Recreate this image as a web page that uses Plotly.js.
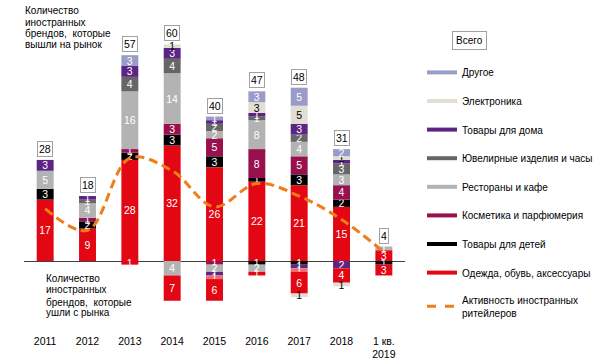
<!DOCTYPE html>
<html><head><meta charset="utf-8">
<script src="https://cdn.plot.ly/plotly-3.0.1.min.js"></script>
<style>body{margin:0;background:#fff}</style>
</head><body><div id="chart" style="width:600px;height:360px"></div>
<script>
const years = ['2011','2012','2013','2014','2015','2016','2017','2018','1 кв.<br>2019'];

// brands that entered the market (positive stack, bottom to top)
const inClothes = [17, 9, 28, 32, 26, 22, 21, 15, 3];
const inKids    = [3, 2, 2, 3, 3, 1, 3, 2, 0];
const inCosm    = [0, 1, 1, 3, 5, 8, 5, 4, 0];
const inRest    = [5, 4, 16, 14, 2, 8, 4, 3, 1];
const inJew     = [0, 1, 4, 4, 2, 1, 2, 3, 0];
const inHome    = [3, 1, 3, 3, 1, 1, 3, 1, 0];
const inElec    = [0, 0, 0, 1, 0, 3, 5, 1, 0];
const inOther   = [0, 0, 3, 0, 1, 3, 5, 2, 0];

// brands that left the market (stacked downward from zero)
const outKids        = [0, 0, 0, 0, 0, 1, 1, 0, 1];
const outCosm        = [0, 0, 0, 0, 1, 0, 0, 0, 0];
const outRest        = [0, 0, 0, 4, 2, 2, 0, 0, 0];
const outJew         = [0, 0, 0, 0, 0, 0, 0, 0, 0];
const outHome        = [0, 0, 0, 0, 1, 0, 1, 2, 0];
const outClothesPart = [0, 0, 0, 0, 1, 0, 1, 0, 0];
const outClothes     = [0, 0, 1, 7, 6, 1, 6, 4, 3];
const outElec        = [0, 0, 0, 0, 0, 0, 1, 1, 0];

// activity of foreign retailers (dashed line)
const activity = [14.5, 8.5, 28.5, 25, 15, 21.5, 18, 11.5, 2.5];

const topNote = ['Количество', 'иностранных', 'брендов,  которые', 'вышли на рынок'];
const bottomNote = ['Количество', 'иностранных', 'брендов,  которые', 'ушли с рынка'];

const FONT = 'Liberation Sans, Arial, sans-serif';
const C = {
  clothes:'#e30613', kids:'#000000', cosm:'#99104f', rest:'#b3b3b3',
  jew:'#666666', home:'#5c2483', elec:'#e3ded3', other:'#9b9bca',
  part:'#ee6b78', line:'#f07d1a'
};

const nz = (a, s) => a.map(v => v ? s * v : null);
const lbl = a => a.map(v => v ? String(v) : '');

function bar(vals, sign, color, tc){
  return {
    type:'bar', x: years, y: nz(vals, sign), text: lbl(vals),
    textposition:'inside', insidetextanchor:'middle', constraintext:'none', textangle:0,
    textfont:{family:FONT, size:10.5, color:tc},
    marker:{color:color, line:{width:0}}, showlegend:false, hoverinfo:'skip',
    cliponaxis:false
  };
}

const traces = [
  bar(inClothes, 1, C.clothes, '#fff'),
  bar(inKids, 1, C.kids, '#fff'),
  bar(inCosm, 1, C.cosm, '#fff'),
  bar(inRest, 1, C.rest, '#fff'),
  bar(inJew, 1, C.jew, '#fff'),
  bar(inHome, 1, C.home, '#fff'),
  bar(inElec, 1, C.elec, '#000'),
  bar(inOther, 1, C.other, '#fff'),
  bar(outKids, -1, C.kids, '#fff'),
  bar(outCosm, -1, C.cosm, '#fff'),
  bar(outRest, -1, C.rest, '#fff'),
  bar(outJew, -1, C.jew, '#fff'),
  bar(outHome, -1, C.home, '#fff'),
  bar(outClothesPart, -1, C.part, '#fff'),
  bar(outClothes, -1, C.clothes, '#fff'),
  bar(outElec, -1, C.elec, '#000'),
  {type:'scatter', mode:'lines', x: years, y: activity, showlegend:false, hoverinfo:'skip',
   line:{color:C.line, width:3, dash:'9px,5px', shape:'spline', smoothing:1}}
];

const legendItems = [
  ['Другое', C.other, 'solid'],
  ['Электроника', C.elec, 'solid'],
  ['Товары для дома', C.home, 'solid'],
  ['Ювелирные изделия и часы', C.jew, 'solid'],
  ['Рестораны и кафе', C.rest, 'solid'],
  ['Косметика и парфюмерия', C.cosm, 'solid'],
  ['Товары для детей', C.kids, 'solid'],
  ['Одежда, обувь, аксессуары', C.clothes, 'solid'],
  ['Активность иностранных<br>ритейлеров', C.line, 'dash']
];
legendItems.forEach((it, i) => {
  traces.push({type:'scatter', mode:'lines', x:[years[0]], y:[null], name: it[0],
    legendgroup:'g'+i, line:{color:it[1], width: it[2]==='dash'?3:4, dash:it[2]}, hoverinfo:'skip'});
});

const totals = years.map((_, i) => inClothes[i]+inKids[i]+inCosm[i]+inRest[i]+inJew[i]+inHome[i]+inElec[i]+inOther[i]);

const annotations = totals.map((t, i) => ({
  x: i, y: t, xref:'x', yref:'y', text: String(t), showarrow:false,
  xanchor:'center', yanchor:'bottom', yshift:3, bgcolor:'#fff', bordercolor:'#a0a0a0', borderwidth:1, borderpad:1,
  font:{family:FONT, size:10.5, color:'#000'}
}));
annotations.push({
  xref:'paper', yref:'paper', x:0.781, y:0.9666, xanchor:'center', yanchor:'middle', text:'Всего', showarrow:false,
  bgcolor:'#fff', bordercolor:'#a0a0a0', borderwidth:1, borderpad:3,
  font:{family:FONT, size:10, color:'#000'}
});
const topY = [1.0702, 1.0301, 0.9933, 0.9532];
const botY = [0.1706, 0.1338, 0.0936, 0.0569];
topNote.forEach((t, i) => annotations.push({
  xref:'paper', yref:'paper', x:-0.002, y:topY[i], xanchor:'left', yanchor:'middle',
  text:t, showarrow:false, font:{family:FONT, size:10, color:'#000'}
}));
bottomNote.forEach((t, i) => annotations.push({
  xref:'paper', yref:'paper', x:0.035, y:botY[i], xanchor:'left', yanchor:'middle',
  text:t, showarrow:false, font:{family:FONT, size:10, color:'#000'}
}));

const layout = {
  width:600, height:360,
  margin:{l:24, r:5, t:31, b:30, autoexpand:false},
  paper_bgcolor:'#fff', plot_bgcolor:'#fff',
  barmode:'relative', bargap:0.6,
  font:{family:FONT, size:10, color:'#000'},
  xaxis:{type:'category', domain:[0, 0.6673], range:[-0.5, 8.5], autorange:false,
         showgrid:false, showline:false, ticks:'', zeroline:false, ticklabelstandoff:3,
         tickfont:{family:FONT, size:10.5, color:'#000'}, fixedrange:true},
  yaxis:{range:[-19.1, 63.7], autorange:false, showgrid:false, showticklabels:false, ticks:'', showline:false,
         zeroline:true, zerolinecolor:'#404040', zerolinewidth:1, fixedrange:true},
  legend:{x:0.697, y:0.91, xanchor:'left', yanchor:'top', traceorder:'grouped',
          tracegroupgap:9.6, font:{family:FONT, size:10, color:'#000'}, bgcolor:'rgba(0,0,0,0)'},
  annotations: annotations,
  showlegend:true
};

Plotly.newPlot('chart', traces, layout, {displayModeBar:false, staticPlot:true});
</script>
</body></html>
